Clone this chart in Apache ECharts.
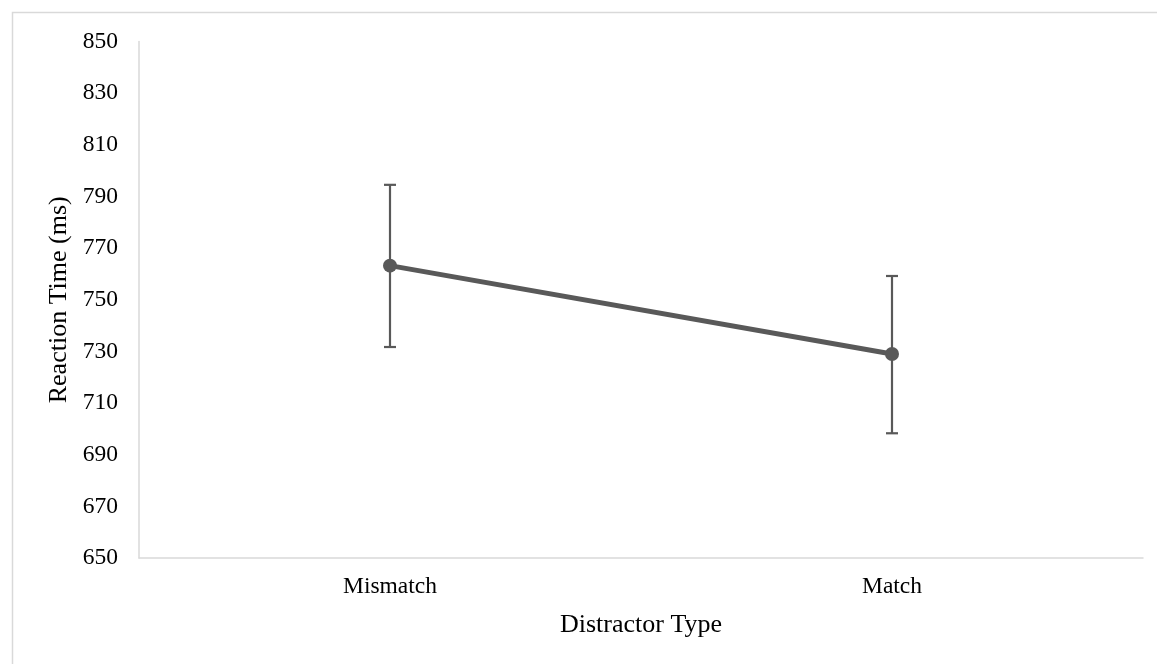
<!DOCTYPE html>
<html><head><meta charset="utf-8">
<script src="https://cdn.jsdelivr.net/npm/echarts@6/dist/echarts.min.js"></script>
<style>html,body{margin:0;padding:0;background:#fff}#c{width:1157px;height:664px}</style>
</head><body><div id="c"></div>
<script>
var categories = ['Mismatch', 'Match'];
var means = [763.2, 729.0];
var errPlus = [31.3, 30.2];
var errMinus = [31.5, 30.7];
var yTicks = [650, 670, 690, 710, 730, 750, 770, 790, 810, 830, 850];

var font = 'Liberation Serif';
var chart = echarts.init(document.getElementById('c'));
var errData = categories.map(function (c, i) { return [i, means[i] - errMinus[i], means[i] + errPlus[i]]; });
chart.setOption({
  animation: false,
  graphic: [{ type: 'rect', shape: { x: 12.5, y: 12.5, width: 1160, height: 680 }, style: { fill: 'none', stroke: '#d9d9d9', lineWidth: 1.5 }, silent: true }],
  grid: { left: 139, right: 14, top: 41.5, bottom: 106 },
  xAxis: {
    type: 'category', data: categories, boundaryGap: true,
    axisLine: { lineStyle: { color: '#d9d9d9', width: 1.5 } },
    axisTick: { show: false },
    axisLabel: { color: '#000', fontFamily: font, fontSize: 23.5, margin: 17 },
    name: 'Distractor Type', nameLocation: 'middle', nameGap: 54,
    nameTextStyle: { color: '#000', fontFamily: font, fontSize: 26 }
  },
  yAxis: {
    type: 'value', min: yTicks[0], max: yTicks[yTicks.length - 1], interval: 20,
    axisLine: { show: true, lineStyle: { color: '#d9d9d9', width: 1.5 } },
    axisTick: { show: false },
    splitLine: { show: false },
    axisLabel: { color: '#000', fontFamily: font, fontSize: 23.5, margin: 21 },
    name: 'Reaction Time (ms)', nameLocation: 'middle', nameGap: 62, nameRotate: 90,
    nameTextStyle: { color: '#000', fontFamily: font, fontSize: 26 }
  },
  series: [
    {
      type: 'line', data: means, symbol: 'circle', symbolSize: 14,
      lineStyle: { color: '#595959', width: 5 },
      itemStyle: { color: '#595959' }, z: 3
    },
    {
      type: 'custom', data: errData, z: 2,
      renderItem: function (params, api) {
        var x = api.value(0);
        var lo = api.coord([x, api.value(1)]);
        var hi = api.coord([x, api.value(2)]);
        var cw = 6;
        var st = { stroke: '#595959', lineWidth: 2.2 };
        return { type: 'group', children: [
          { type: 'line', shape: { x1: hi[0], y1: hi[1], x2: lo[0], y2: lo[1] }, style: st },
          { type: 'line', shape: { x1: hi[0] - cw, y1: hi[1], x2: hi[0] + cw, y2: hi[1] }, style: st },
          { type: 'line', shape: { x1: lo[0] - cw, y1: lo[1], x2: lo[0] + cw, y2: lo[1] }, style: st }
        ] };
      }
    }
  ]
});
</script></body></html>
